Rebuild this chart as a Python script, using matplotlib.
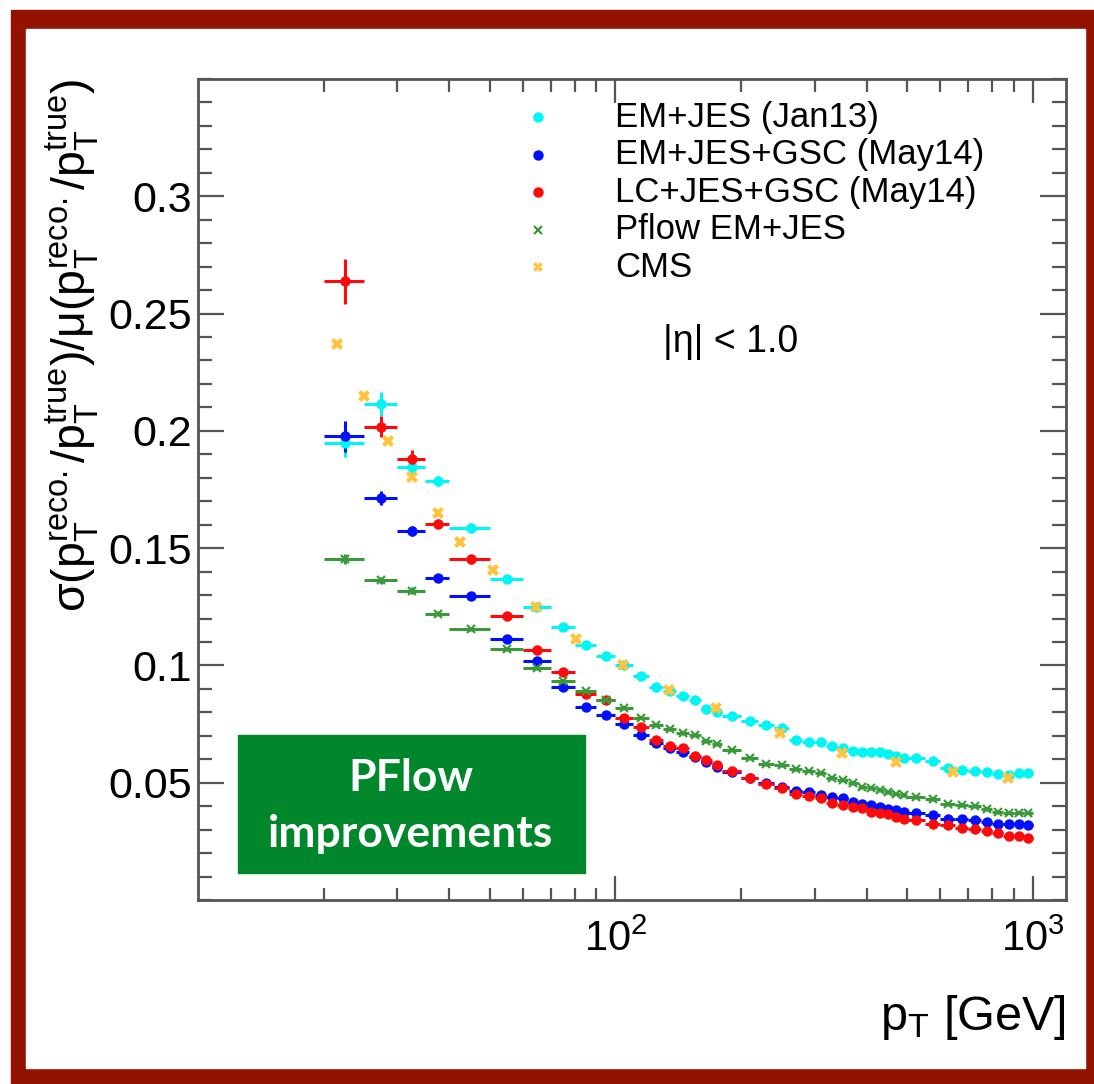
import matplotlib
matplotlib.use("Agg")
import matplotlib.pyplot as plt
import numpy as np
from matplotlib.patches import Rectangle
from matplotlib.ticker import MultipleLocator, NullFormatter

plt.rcParams["font.family"] = ["Liberation Sans", "DejaVu Sans"]
plt.rcParams["mathtext.fontset"] = "custom"
plt.rcParams["mathtext.rm"] = "Liberation Sans"
plt.rcParams["mathtext.it"] = "Liberation Sans:italic"
plt.rcParams["mathtext.default"] = "regular"

# ---------------------------------------------------------------------------
# Data
# ---------------------------------------------------------------------------

pt_edges = [20, 25, 30, 35, 40, 50, 60, 70, 80, 90, 100, 110, 120, 130, 140,
            150, 160, 170, 180, 200, 220, 240, 260, 280, 300, 320, 340, 360,
            380, 400, 420, 440, 460, 480, 500, 550, 600, 650, 700, 750, 800,
            850, 900, 950, 1000]

em_jes_jan13 = [0.195, 0.2115, 0.1847, 0.1786, 0.1587, 0.137, 0.1248, 0.1162,
                0.1087, 0.1041, 0.1003, 0.0953, 0.091, 0.0889, 0.0868, 0.0853,
                0.0813, 0.0800, 0.0786, 0.0761, 0.0747, 0.0732, 0.0682, 0.0672,
                0.0672, 0.0658, 0.0647, 0.0635, 0.0630, 0.0630, 0.0630, 0.0621,
                0.0612, 0.0604, 0.0604, 0.0593, 0.0561, 0.0554, 0.0550, 0.0544,
                0.0536, 0.0533, 0.0540, 0.0540]
em_jes_gsc = [0.1976, 0.1712, 0.1573, 0.1373, 0.1298, 0.1112, 0.102, 0.091,
              0.0821, 0.079, 0.0751, 0.0702, 0.0668, 0.0650, 0.0632, 0.0608,
              0.0590, 0.0568, 0.0546, 0.0518, 0.0497, 0.0483, 0.0465, 0.0460,
              0.0447, 0.0440, 0.0436, 0.0419, 0.0408, 0.0404, 0.0397, 0.0390,
              0.0383, 0.0375, 0.0369, 0.0363, 0.0347, 0.0346, 0.0339, 0.0333,
              0.0326, 0.0322, 0.0322, 0.0320]
lc_jes_gsc = [0.2637, 0.2018, 0.1882, 0.1604, 0.1452, 0.121, 0.1067, 0.0972,
              0.088, 0.0852, 0.0778, 0.0739, 0.0683, 0.0658, 0.0647, 0.0615,
              0.0597, 0.0576, 0.0550, 0.0518, 0.0493, 0.0476, 0.0450, 0.0444,
              0.0436, 0.0412, 0.0405, 0.0397, 0.0393, 0.0376, 0.0373, 0.0365,
              0.0352, 0.0345, 0.0341, 0.0326, 0.0319, 0.0308, 0.0302, 0.0294,
              0.0286, 0.0271, 0.0271, 0.0265]
pflow_em_jes = [0.1454, 0.1363, 0.1319, 0.1221, 0.1155, 0.107, 0.0989, 0.0933,
                0.0889, 0.0852, 0.0819, 0.0778, 0.0744, 0.0730, 0.0711, 0.0704,
                0.0678, 0.0664, 0.0640, 0.0604, 0.0578, 0.0576, 0.0557, 0.0552,
                0.0540, 0.0518, 0.0512, 0.0498, 0.0483, 0.0476, 0.0469, 0.0462,
                0.0454, 0.0446, 0.0440, 0.0432, 0.0408, 0.0405, 0.0400, 0.0389,
                0.0376, 0.0373, 0.0373, 0.0373]

# vertical error bars (only the low-pT bins are visibly larger than the markers)
em_jes_jan13_err = [0.006, 0.005, 0.003, 0.002, 0.002, 0.0015, 0.0015, 0.001] + [0.001] * 36
em_jes_gsc_err = [0.0065, 0.003, 0.002, 0.0015, 0.0015, 0.0012, 0.001, 0.001] + [0.001] * 36
lc_jes_gsc_err = [0.0096, 0.0045, 0.0035, 0.002, 0.002, 0.0015, 0.0012, 0.001] + [0.001] * 36
pflow_em_jes_err = [0.002, 0.0015, 0.0015, 0.0012, 0.001, 0.001, 0.001, 0.001] + [0.0008] * 36

cms_pt = [21.5, 25, 28.5, 32.5, 37.5, 42.5, 51, 64.5, 80.5, 104, 134, 174,
          248, 348, 471, 644, 873]
cms_res = [0.237, 0.2148, 0.1955, 0.1803, 0.1648, 0.1526, 0.1406, 0.1248,
           0.1113, 0.1003, 0.0896, 0.0818, 0.0711, 0.0625, 0.0590, 0.0547,
           0.0518]

labels = ["EM+JES (Jan13)", "EM+JES+GSC (May14)", "LC+JES+GSC (May14)",
          "Pflow EM+JES", "CMS"]
y_ticks = [0.05, 0.1, 0.15, 0.2, 0.25, 0.3]
y_tick_labels = ["0.05", "0.1", "0.15", "0.2", "0.25", "0.3"]
x_ticks = [100, 1000]
x_tick_labels = [r"$10^{2}$", r"$10^{3}$"]
x_minor = [20, 30, 40, 50, 60, 70, 80, 90, 200, 300, 400, 500, 600, 700, 800, 900]

# ---------------------------------------------------------------------------
# Styling
# ---------------------------------------------------------------------------

CYAN = "#00f5f5"
BLUE = "#0010ff"
RED = "#ff0a0a"
GREEN = "#3a9a3a"
ORANGE = "#ffc43c"
FRAME_RED = "#941200"
BOX_GREEN = "#00862b"

W, H = 1094, 1084
fig = plt.figure(figsize=(W / 100, H / 100), dpi=100)
fig.patch.set_facecolor("white")

# red slide frame
fig.add_artist(Rectangle((11 / W, 0), 1 - 11 / W, (H - 10) / H,
                         transform=fig.transFigure, color=FRAME_RED, zorder=-3))
fig.add_artist(Rectangle((26 / W, 16 / H), (1085 - 26) / W, (1068 - 29) / H,
                         transform=fig.transFigure, color="white", zorder=-2))

ax = fig.add_axes([198 / W, 1 - 900 / H, (1066 - 198) / W, (900 - 79) / H])
ax.set_xscale("log")

edges = np.array(pt_edges, dtype=float)
pt_c = 0.5 * (edges[:-1] + edges[1:])
pt_xerr = [pt_c - edges[:-1], edges[1:] - pt_c]

series = [
    (em_jes_jan13, em_jes_jan13_err, CYAN),
    (em_jes_gsc, em_jes_gsc_err, BLUE),
    (lc_jes_gsc, lc_jes_gsc_err, RED),
]
for vals, err, col in series:
    ax.errorbar(pt_c, vals, xerr=pt_xerr, yerr=err, fmt="o", color=col,
                ms=7.5, mew=0, elinewidth=2.2, capsize=0, zorder=3)

ax.errorbar(pt_c, pflow_em_jes, xerr=pt_xerr, yerr=pflow_em_jes_err, fmt="x",
            color=GREEN, ms=6, mew=1.6, elinewidth=2.2, capsize=0, zorder=4)
ax.plot(cms_pt, cms_res, "X", color=ORANGE, ms=8, mew=0, linestyle="none",
        zorder=5)

ax.set_xlim(10, 1200)
ax.set_ylim(0, 0.35)

ax.set_xticks(x_ticks, x_tick_labels)
ax.set_xticks(x_minor, minor=True)
ax.xaxis.set_minor_formatter(NullFormatter())
ax.set_yticks(y_ticks, y_tick_labels)
ax.yaxis.set_minor_locator(MultipleLocator(0.01))

ax.tick_params(which="both", direction="in", top=True, right=True,
               color="#555555", width=1.6)
ax.tick_params(axis="x", which="major", length=17, labelsize=30, pad=14)
ax.tick_params(axis="x", which="minor", length=9)
ax.tick_params(axis="y", which="major", length=19, labelsize=31, pad=4)
ax.tick_params(axis="y", which="minor", length=10)
for sp in ax.spines.values():
    sp.set_color("#555555")
    sp.set_linewidth(2)

ax.set_ylabel(r"$\sigma(p_{T}^{reco.}/p_{T}^{true})/\mu(p_{T}^{reco.}/p_{T}^{true})$",
              fontsize=33.5, loc="top")
ax.yaxis.set_label_coords(-0.112, 1.0)
ax.set_xlabel(r"$p_{T}$ [GeV]", fontsize=35, loc="right")
ax.xaxis.set_label_coords(1.0, -0.113)

# legend (drawn by hand to match the ROOT layout)
leg_styles = [(CYAN, "o", 7.5, 0), (BLUE, "o", 7.5, 0), (RED, "o", 7.5, 0),
              (GREEN, "x", 6, 1.6), (ORANGE, "X", 7, 0)]
for i, (lab, (col, mk, ms, mew)) in enumerate(zip(labels, leg_styles)):
    yy = 0.9537 - i * 0.0457
    ax.plot([0.3917], [yy], mk, color=col, ms=ms, mew=mew,
            transform=ax.transAxes, clip_on=False)
    ax.text(0.4804, yy, lab, transform=ax.transAxes, fontsize=25,
            va="center", ha="left")

ax.text(0.536, 0.68, "|η| < 1.0", transform=ax.transAxes, fontsize=27,
        va="center", ha="left")

# green annotation box
fig.add_artist(Rectangle((238 / W, 1 - 873 / H), (585 - 238) / W, (873 - 735) / H,
                         transform=fig.transFigure, color=BOX_GREEN, zorder=6))
fig.text(411 / W, 1 - 806 / H, "PFlow\nimprovements", color="white",
         family="Lato", weight="bold", fontsize=32, ha="center", va="center",
         linespacing=1.5, zorder=7)

fig.savefig("out.png", dpi=100)
